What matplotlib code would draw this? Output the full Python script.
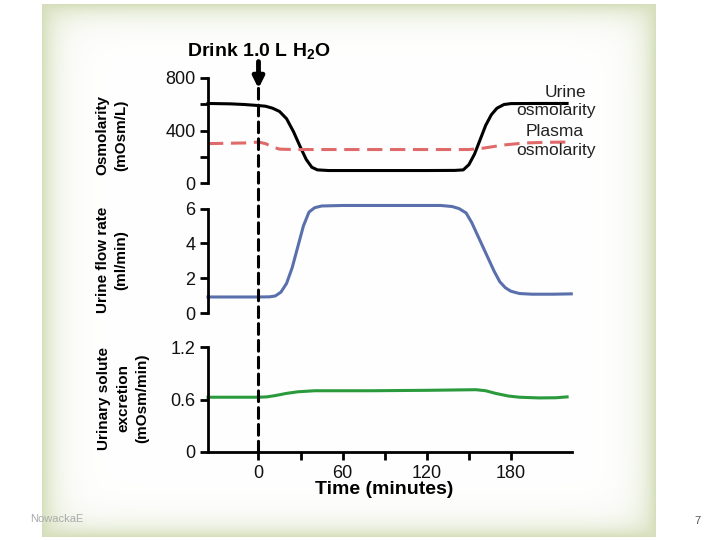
import numpy as np
import matplotlib
matplotlib.use("Agg")
import matplotlib.pyplot as plt
from matplotlib.patches import ConnectionPatch

plt.rcParams['font.family'] = ['Liberation Sans', 'DejaVu Sans']
plt.rcParams['mathtext.fontset'] = 'custom'
plt.rcParams['mathtext.rm'] = 'Liberation Sans'
plt.rcParams['mathtext.bf'] = 'Liberation Sans:bold'

# data (time in minutes)
t_uosm = [-36, -20, -10, 0, 5, 10, 15, 20, 25, 30, 34, 38, 42, 50, 80, 120, 140, 146,
          150, 154, 158, 162, 166, 170, 175, 180, 200, 220]
urine_osm = [606, 603, 598, 590, 585, 570, 545, 490, 390, 270, 180, 120, 100, 95, 95, 95, 96, 100,
             140, 220, 330, 440, 520, 570, 598, 605, 606, 606]

t_posm = [-36, -10, 0, 5, 10, 15, 25, 150, 160, 175, 190, 205, 222]
plasma_osm = [300, 305, 312, 300, 275, 258, 255, 255, 265, 290, 305, 310, 312]

t_flow = [-36, 0, 8, 12, 16, 20, 24, 28, 32, 36, 40, 45, 60, 130, 138, 143, 148, 152, 156,
          160, 164, 168, 172, 176, 180, 186, 195, 210, 223]
flow = [0.92, 0.92, 0.93, 0.98, 1.2, 1.7, 2.6, 3.8, 5.0, 5.8, 6.05, 6.15, 6.18, 6.18, 6.12, 6.0,
        5.75, 5.2, 4.5, 3.8, 3.1, 2.4, 1.8, 1.45, 1.25, 1.12, 1.08, 1.08, 1.1]

t_sol = [-36, 0, 6, 12, 20, 28, 40, 80, 120, 155, 162, 169, 178, 186, 200, 212, 220]
solute = [0.626, 0.626, 0.63, 0.645, 0.67, 0.688, 0.70, 0.70, 0.705, 0.712, 0.70, 0.67, 0.64,
          0.626, 0.618, 0.62, 0.63]

xticks = [0, 30, 60, 90, 120, 150, 180]
xticklabels = ['0', '', '60', '', '120', '', '180']

fig = plt.figure(figsize=(7.2, 5.4), dpi=100)

# slide frame with soft green-beige border
W, H = 720, 540
x0, x1, y0, y1 = 42, 655, 4, 536
xx, yy = np.meshgrid(np.arange(W), np.arange(H))
dx = np.minimum(xx - x0, x1 - xx).clip(0)
dy = np.minimum(yy - y0, y1 - yy).clip(0)
w = 1 - (1 - np.exp(-dx / 14.0)) * (1 - np.exp(-dy / 12.0))
inside = (xx >= x0) & (xx <= x1) & (yy >= y0) & (yy <= y1)
w = np.where(inside, w, 0.0)
edge = np.array([0.84, 0.875, 0.74])
img = np.ones((H, W, 3)) * (1 - w[..., None]) + edge * w[..., None]
bg = fig.add_axes([0, 0, 1, 1], zorder=-5)
bg.imshow(img, aspect='auto', interpolation='bilinear')
bg.axis('off')

xl = (-36, 223.5)
left, width = 208 / 720, 364 / 720
ax1 = fig.add_axes([left, 1 - 183 / 540, width, 105 / 540])
ax2 = fig.add_axes([left, 1 - 313 / 540, width, 104.4 / 540])
ax3 = fig.add_axes([left, 1 - 452 / 540, width, 105 / 540])

for ax in (ax1, ax2, ax3):
    ax.patch.set_alpha(0)
    ax.set_xlim(*xl)
    for s in ('top', 'right'):
        ax.spines[s].set_visible(False)
    ax.spines['left'].set_linewidth(2)
    ax.spines['bottom'].set_linewidth(2)
    ax.tick_params(width=2, length=6, labelsize=13, pad=3, color='black', labelcolor='#111111')
for ax in (ax1, ax2):
    ax.spines['bottom'].set_visible(False)
    ax.set_xticks([])

ax1.plot(t_uosm, urine_osm, color='black', lw=2.2, clip_on=False)
ax1.plot(t_posm, plasma_osm, color='#e06a6a', lw=2.2, dashes=(5, 2.5), clip_on=False)
ax1.set_ylim(0, 800)
ax1.spines['left'].set_bounds(0, 800)
ax1.set_yticks([0, 200, 400, 600, 800])
ax1.set_yticklabels(['0', '', '400', '', '800'])

ax2.plot(t_flow, flow, color='#5a70ad', lw=2.2, clip_on=False)
ax2.set_ylim(0, 6)
ax2.set_yticks([0, 2, 4, 6])

ax3.plot(t_sol, solute, color='#2a9a3c', lw=2.2, clip_on=False)
ax3.set_ylim(0, 1.2)
ax3.set_yticks([0, 0.6, 1.2])
ax3.set_yticklabels(['0', '0.6', '1.2'])
ax3.set_xticks(xticks)
ax3.set_xticklabels(xticklabels)

# curve labels
lab = dict(ha='center', va='center', fontsize=12.5, color='#222222')
ax1.text(219, 686, 'Urine', **lab)
ax1.text(212, 549, 'osmolarity', **lab)
ax1.text(211, 389, 'Plasma', **lab)
ax1.text(212, 251, 'osmolarity', **lab)

# dashed line at drinking time and arrow
con = ConnectionPatch(xyA=(0, 0), coordsA=ax3.transData, xyB=(0, 724), coordsB=ax1.transData,
                      color='black', lw=2.2, linestyle=(0, (3.5, 2)))
fig.add_artist(con)
ax1.annotate('', xy=(0, 720), xytext=(0, 925), annotation_clip=False,
             arrowprops=dict(arrowstyle='-|>', lw=3.5, mutation_scale=16, color='black',
                             shrinkA=0, shrinkB=0))
fig.text(259 / 720, 1 - 52 / 540, r'Drink 1.0 L H$_\mathbf{2}$O', ha='center', va='center',
         fontsize=14, fontweight='bold')

# axis labels
ylab = dict(rotation=90, ha='center', va='center', fontsize=11, fontweight='bold',
            linespacing=1.45, multialignment='center')
fig.text(112 / 720, 1 - 135 / 540, 'Osmolarity\n(mOsm/L)', **ylab)
fig.text(112 / 720, 1 - 260 / 540, 'Urine flow rate\n(ml/min)', **ylab)
fig.text(123 / 720, 1 - 398 / 540, 'Urinary solute\nexcretion\n(mOsm/min)', **ylab)
fig.text(384 / 720, 1 - 489 / 540, 'Time (minutes)', ha='center', va='center', fontsize=14,
         fontweight='bold')

# slide footer
fig.text(30 / 720, 1 - 519 / 540, 'NowackaE', fontsize=8, color='#aaaaaa', va='center')
fig.text(697 / 720, 1 - 521 / 540, '7', fontsize=8, color='#555555', va='center', ha='center')

fig.savefig('out.png', dpi=100)
